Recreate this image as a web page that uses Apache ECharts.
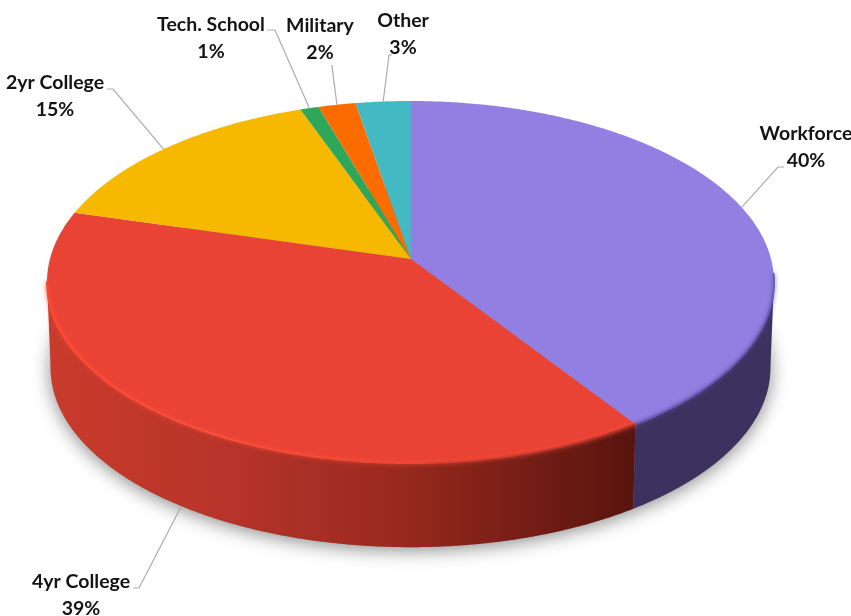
<!DOCTYPE html>
<html>
<head>
<meta charset="utf-8">
<style>html,body{margin:0;padding:0;background:#fff}#chart{width:851px;height:616px}</style>
<script src="https://cdn.jsdelivr.net/npm/echarts@6/dist/echarts.min.js"></script>
</head>
<body>
<div id="chart"></div>
<script>
// Post-graduation plans, as percentage shares
const categories = ['Workforce', '4yr College', '2yr College', 'Tech. School', 'Military', 'Other'];
const shares = [40, 39, 15, 1, 2, 3];

// Slice styling, in the same order as categories
const faceColors = ['#927fe2', '#e94335', '#f6b900', '#2fa75b', '#fb6c00', '#42b9c3'];
const wallStops = [
  [[0, '#3c3260'], [1, '#3c3260']],
  [[0, '#c93b2b'], [0.3, '#b8342a'], [0.6, '#98291e'], [1, '#57140e']],
  [[0, '#b58800'], [1, '#b58800']],
  [[0, '#1f7a40'], [1, '#1f7a40']],
  [[0, '#b04c00'], [1, '#b04c00']],
  [[0, '#2f868d'], [1, '#2f868d']]
];
const rimStops = [
  [[0, '#5f51a8'], [1, '#6a5bb4']],
  [[0, '#ff4a35'], [0.3, '#f8503a'], [0.6, '#ec4636'], [1, '#a8322a']],
  null, null, null, null
];

// Tilted disc: an ellipse outline with the slice apex set above its centre.
// Slices start at 12 o'clock and run clockwise.
const disc = { cx: 410.5, cy: 282, rx: 363.5, ry: 181, apexX: 411, apexY: 259, stretch: 1.87 };
const base = { scale: 0.99, cy: 368 };

// Label centres, leader elbows in chart pixels, and a small angular shift of each leader's foot
const labelLayout = [
  { x: 806, y: 147, from: [784, 167], elbow: [778, 167], onBase: false, nudge: 0.03 },
  { x: 81, y: 595, from: [133, 588], elbow: [139, 588], onBase: true, nudge: 0.055 },
  { x: 55, y: 96, from: [107, 89], elbow: [113, 89], onBase: false, nudge: -0.03 },
  { x: 211, y: 38, from: [267, 30], elbow: [275, 30], onBase: false, nudge: 0 },
  { x: 320, y: 39, from: [332, 65], elbow: [332, 66], onBase: false, nudge: 0 },
  { x: 403, y: 34, from: [392, 55], elbow: [389, 55], onBase: false, nudge: 0 }
];

const total = shares.reduce((s, v) => s + v, 0);
const starts = [];
shares.reduce((acc, v, i) => { starts[i] = acc; return acc + v; }, 0);
const toAngle = pct => pct / total * Math.PI * 2;

// Angles at which the outline is widest; the wall is only visible between them
const tangent = Math.atan(disc.rx / (disc.cy - disc.apexY) / disc.stretch);
const wallFrom = Math.PI - tangent;
const wallTo = Math.PI + tangent;

// Casts a ray from the apex and returns where it meets the ellipse outline
function topPoint(t) {
  const dx = disc.stretch * Math.sin(t);
  const dy = -Math.cos(t);
  const ox = (disc.apexX - disc.cx) / disc.rx;
  const oy = (disc.apexY - disc.cy) / disc.ry;
  const ux = dx / disc.rx;
  const uy = dy / disc.ry;
  const A = ux * ux + uy * uy;
  const B = 2 * (ox * ux + oy * uy);
  const C = ox * ox + oy * oy - 1;
  const k = (-B + Math.sqrt(B * B - 4 * A * C)) / (2 * A);
  return [disc.apexX + k * dx, disc.apexY + k * dy];
}
function basePoint(t) {
  const p = topPoint(t);
  return [disc.cx + base.scale * (p[0] - disc.cx), base.cy + base.scale * (p[1] - disc.cy)];
}
function arc(fn, t0, t1) {
  const n = Math.max(4, Math.ceil((t1 - t0) / 0.01));
  const pts = [];
  for (let i = 0; i <= n; i++) pts.push(fn(t0 + (t1 - t0) * i / n));
  return pts;
}
function wallPaint(stops) {
  return new echarts.graphic.LinearGradient(
    47, 0, 636, 0,
    stops.map(s => ({ offset: s[0], color: s[1] })),
    true
  );
}

function renderShadow() {
  return {
    type: 'polygon',
    shape: { points: arc(basePoint, 0, Math.PI * 2) },
    style: { fill: '#8a8a8a', shadowBlur: 18, shadowColor: 'rgba(60,60,60,0.6)', shadowOffsetY: 3 }
  };
}
function renderWall(params, api) {
  const i = params.dataIndex;
  const t0 = Math.max(toAngle(starts[i]), wallFrom);
  const t1 = Math.min(toAngle(starts[i] + api.value(0)), wallTo);
  if (t1 <= t0) return null;
  return {
    type: 'polygon',
    shape: { points: arc(topPoint, t0, t1).concat(arc(basePoint, t0, t1).reverse()) },
    style: { fill: wallPaint(wallStops[i]) }
  };
}
function renderFace(params, api) {
  const i = params.dataIndex;
  const t0 = toAngle(starts[i]);
  const t1 = t0 + toAngle(api.value(0));
  const children = [{
    type: 'polygon',
    shape: { points: [[disc.apexX, disc.apexY]].concat(arc(topPoint, t0, t1)) },
    style: { fill: faceColors[i] }
  }];
  if (rimStops[i]) {
    const lo = Math.max(t0, wallFrom - 0.04);
    const hi = Math.min(t1, wallTo);
    children.push({
      type: 'polyline',
      shape: { points: arc(topPoint, lo, hi) },
      style: {
        fill: null,
        stroke: wallPaint(rimStops[i]),
        lineWidth: 2,
        lineCap: 'round',
        shadowBlur: 4,
        shadowColor: rimStops[i][0][1]
      }
    });
  }
  return { type: 'group', children };
}
function renderLabel(params, api) {
  const i = params.dataIndex;
  const layout = labelLayout[i];
  const mid = toAngle(starts[i] + api.value(0) / 2) + layout.nudge;
  const anchor = layout.onBase ? basePoint(mid) : topPoint(mid);
  return {
    type: 'group',
    children: [{
      type: 'polyline',
      shape: { points: [layout.from, layout.elbow, anchor] },
      style: { fill: null, stroke: '#ababab', lineWidth: 1.2 }
    }, {
      type: 'text',
      style: {
        text: categories[i] + '\n' + api.value(0) + '%',
        x: layout.x,
        y: layout.y,
        align: 'center',
        verticalAlign: 'middle',
        fill: '#141414',
        font: 'bold 19.5px Lato',
        lineHeight: 27
      }
    }]
  };
}

const chart = echarts.init(document.getElementById('chart'), null, { renderer: 'canvas' });
const sliceData = shares.map(v => [v]);
chart.setOption({
  animation: false,
  backgroundColor: '#ffffff',
  series: [
    { type: 'custom', coordinateSystem: 'none', silent: true, z: 1, data: [[total]], renderItem: renderShadow },
    { type: 'custom', coordinateSystem: 'none', silent: true, z: 2, data: sliceData, renderItem: renderWall },
    { type: 'custom', coordinateSystem: 'none', silent: true, z: 3, data: sliceData, renderItem: renderFace },
    { type: 'custom', coordinateSystem: 'none', silent: true, z: 4, data: sliceData, renderItem: renderLabel }
  ]
});
</script>
</body>
</html>
